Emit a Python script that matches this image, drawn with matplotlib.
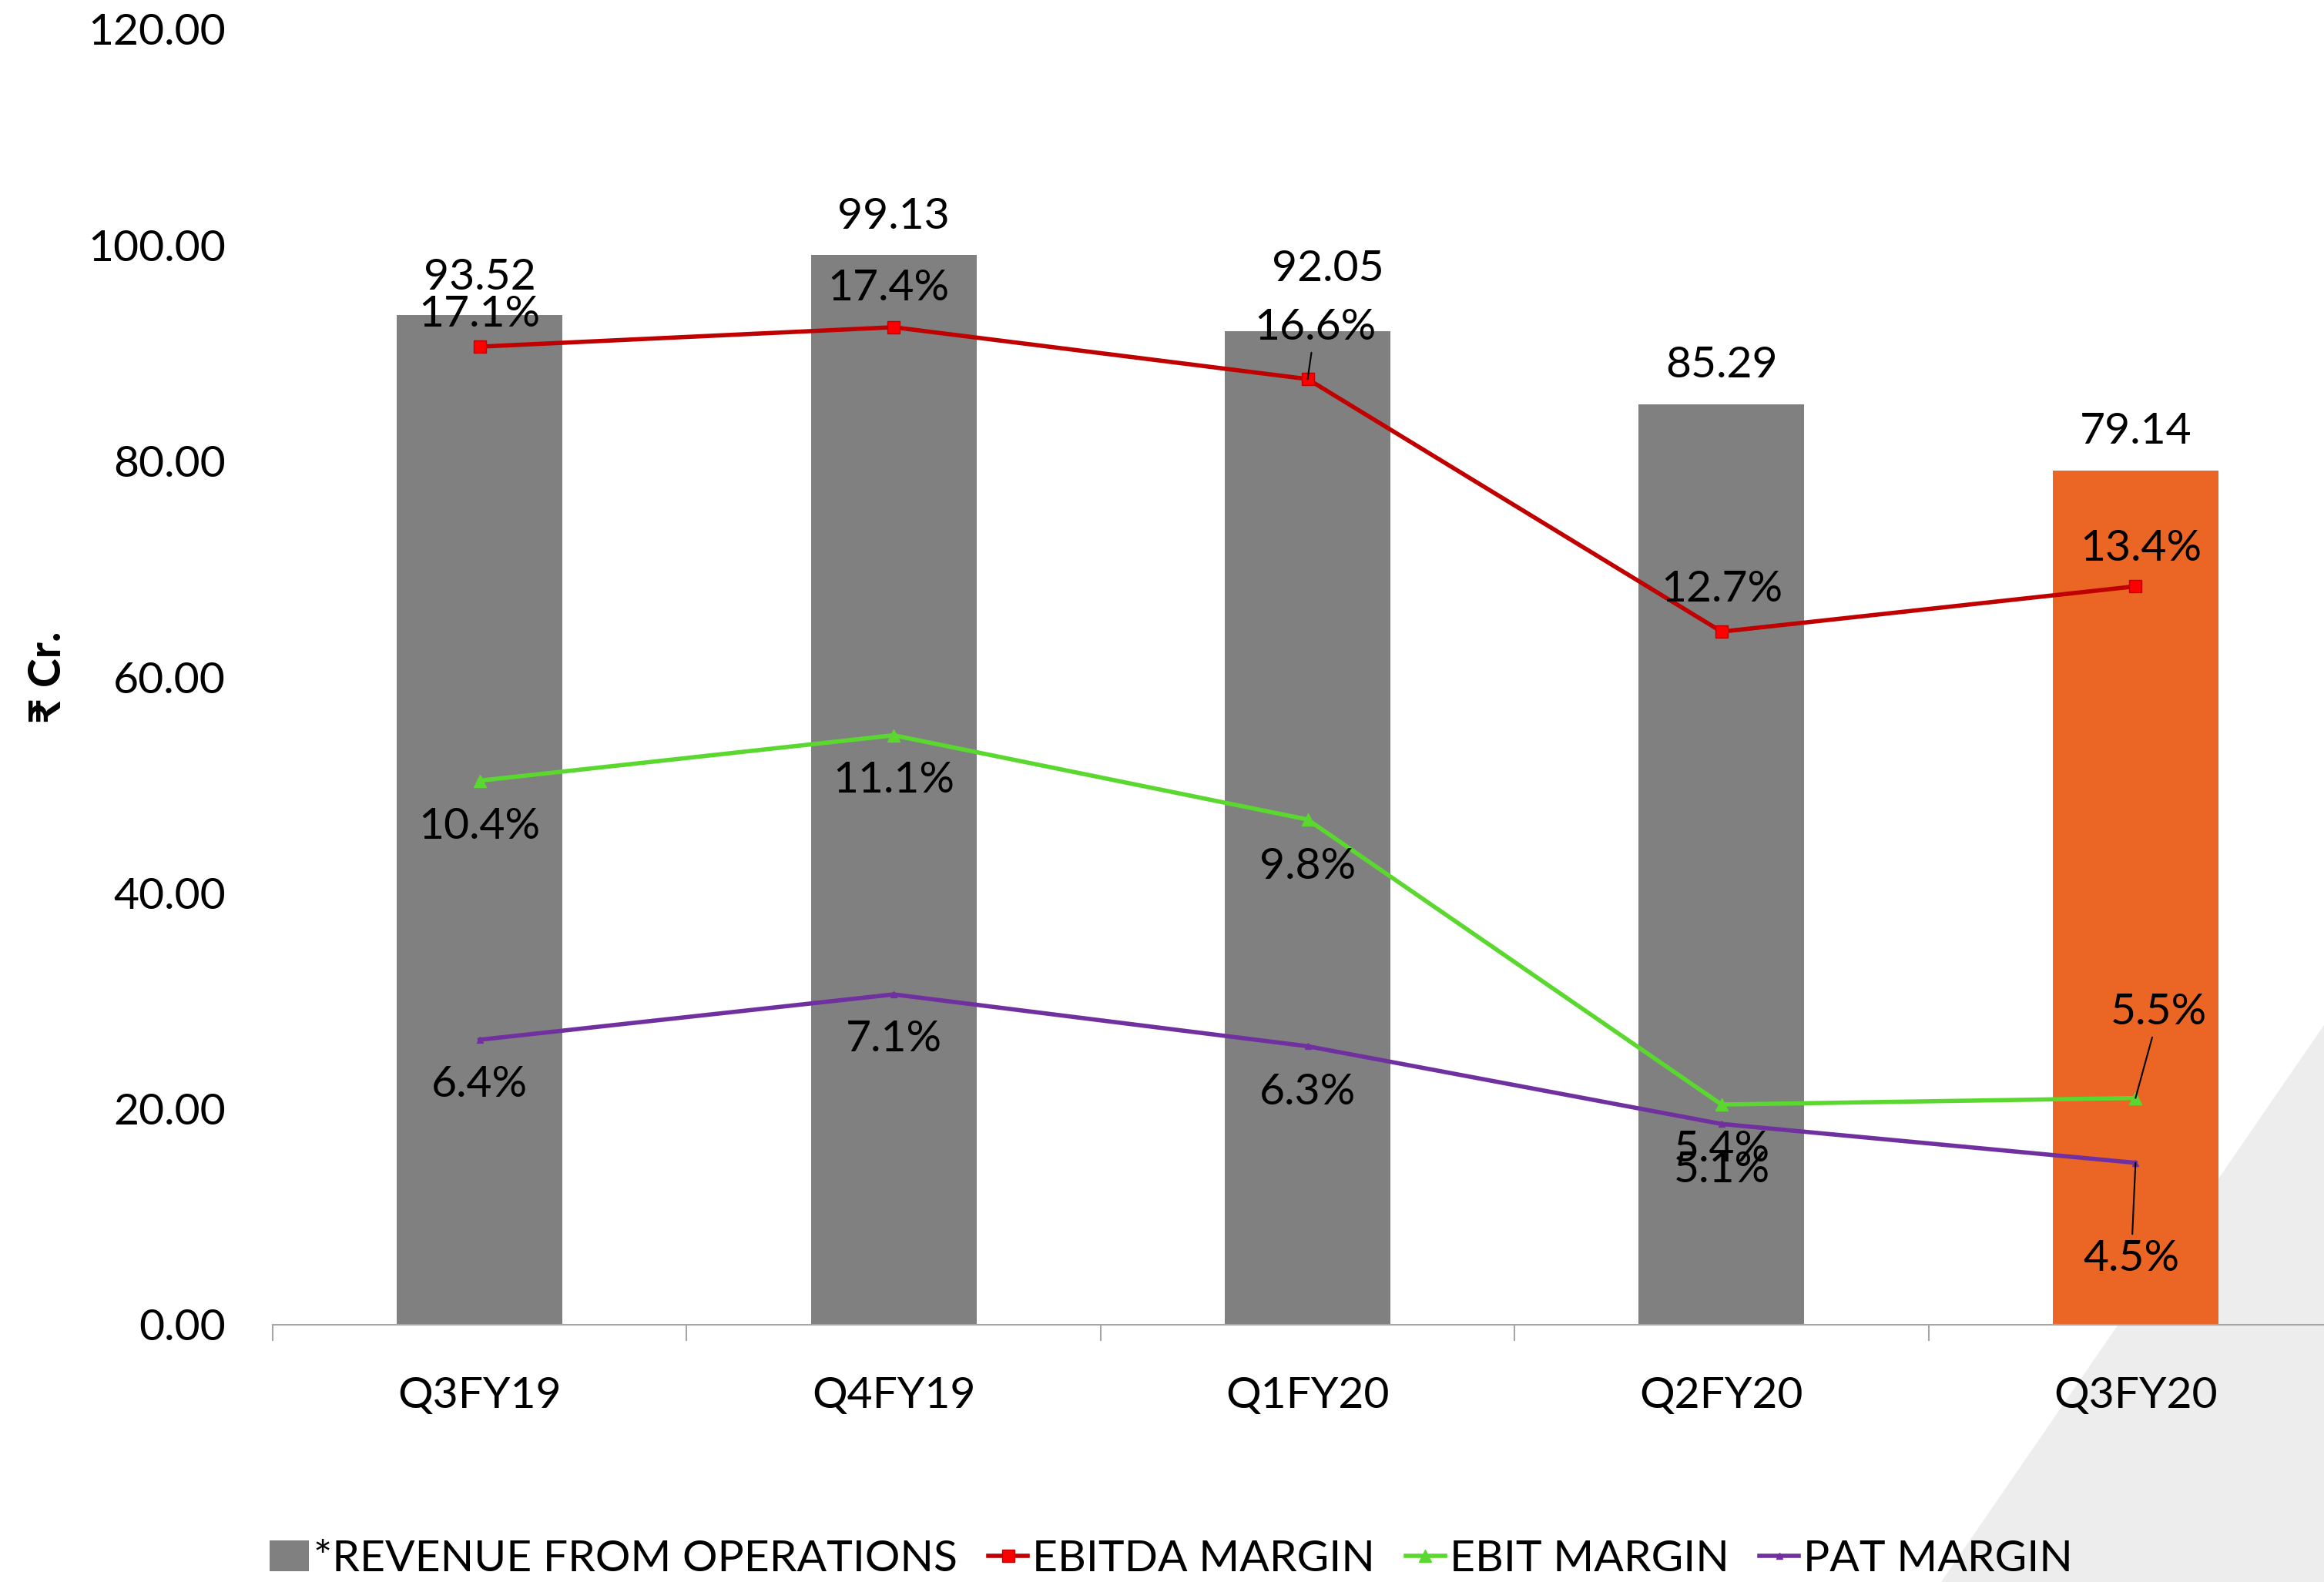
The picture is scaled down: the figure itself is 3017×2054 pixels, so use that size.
import matplotlib.pyplot as plt
from matplotlib.patches import Polygon
import numpy as np

plt.rcParams['font.family'] = ['Lato', 'DejaVu Sans']

quarters = ['Q3FY19', 'Q4FY19', 'Q1FY20', 'Q2FY20', 'Q3FY20']
revenue = [93.52, 99.13, 92.05, 85.29, 79.14]
ebitda_margin = [17.1, 17.4, 16.6, 12.7, 13.4]
ebit_margin = [10.4, 11.1, 9.8, 5.4, 5.5]
pat_margin = [6.4, 7.1, 6.3, 5.1, 4.5]

# label offsets (points) for data labels, and which ones get a leader line
rev_off = [(0, 35), (0, 35), (19, 58), (0, 36), (0, 36)]
ebitda_off = [(0, 30), (-5, 36), (7, 48), (0, 39), (5, 35)]
ebit_off = [(0, -43), (0, -42), (0, -44), (0, -42), (22, 80)]
pat_off = [(0, -42), (0, -42), (0, -43), (0, -43), (-4, -90)]
ebitda_lead = [False, False, True, False, False]
ebit_lead = [False, False, False, False, True]
pat_lead = [False, False, False, False, True]

FS = 41
fig = plt.figure(figsize=(30.17, 20.54), dpi=100)

# light gray triangle in bottom right corner, behind the chart
tri = Polygon([(1.0, 1 - 1331 / 2054), (1.0, 0.0), (2520 / 3017, 0.0)],
              closed=True, transform=fig.transFigure, facecolor='#EDEDED',
              edgecolor='none', zorder=-10)
fig.patches.append(tri)

ax1 = fig.add_axes([354 / 3017, 1 - 1720 / 2054, 2687 / 3017, 1682 / 2054])
ax1.patch.set_alpha(0)
x = np.arange(len(quarters))
colors = ['#808080'] * 4 + ['#EB6625']
ax1.bar(x, revenue, width=0.4, color=colors, zorder=2, label='*REVENUE FROM OPERATIONS')
ax1.set_xlim(-0.5, 4.5)
ax1.set_ylim(0, 120)
ax1.set_yticks(np.arange(0, 121, 20))
ax1.set_yticklabels(['%.2f' % v for v in np.arange(0, 121, 20)], fontsize=FS)
ax1.set_xticks(x)
ax1.set_xticklabels(quarters, fontsize=FS)
ax1.set_xticks(np.arange(-0.5, 5, 1), minor=True)
ax1.tick_params(axis='x', which='major', length=0, pad=48)
ax1.tick_params(axis='x', which='minor', length=15, width=1.5, color='#A6A6A6')
ax1.tick_params(axis='y', length=0, pad=44)
for s in ['top', 'right', 'left']:
    ax1.spines[s].set_visible(False)
ax1.spines['bottom'].set_color('#A6A6A6')
ax1.spines['bottom'].set_linewidth(1.5)
ax1.set_ylabel('₹ Cr.', fontsize=FS, fontweight='bold', labelpad=18)

for i, v in enumerate(revenue):
    ax1.annotate('%.2f' % v, (x[i], v), xytext=rev_off[i], textcoords='offset points',
                 ha='center', va='center', fontsize=FS, zorder=5)

ax2 = ax1.twinx()
ax2.set_ylim(2, 22)
ax2.axis('off')
l1, = ax2.plot(x, ebitda_margin, color='#C00000', lw=4, marker='s', markersize=11,
               markerfacecolor='#FF0000', markeredgecolor='#C00000', label='EBITDA MARGIN')
l2, = ax2.plot(x, ebit_margin, color='#5BD82F', lw=4, marker='^', markersize=11,
               label='EBIT MARGIN')
l3, = ax2.plot(x, pat_margin, color='#7030A0', lw=4, marker='^', markersize=6,
               label='PAT MARGIN')

leader = dict(arrowstyle='-', color='black', lw=1.5, shrinkA=3, shrinkB=0)
for vals, offs, lead in [(ebitda_margin, ebitda_off, ebitda_lead),
                         (ebit_margin, ebit_off, ebit_lead),
                         (pat_margin, pat_off, pat_lead)]:
    for i, v in enumerate(vals):
        ax2.annotate('%.1f%%' % v, (x[i], v), xytext=offs[i], textcoords='offset points',
                     ha='center', va='center', fontsize=FS,
                     arrowprops=leader if lead[i] else None)

h1, lab1 = ax1.get_legend_handles_labels()
fig.legend(h1 + [l1, l2, l3], lab1 + ['EBITDA MARGIN', 'EBIT MARGIN', 'PAT MARGIN'],
           loc='center', bbox_to_anchor=(0.504, 1 - 2024 / 2054), ncol=4, frameon=False,
           fontsize=FS, handlelength=0.9, handletextpad=0.1, columnspacing=0.7)

fig.savefig('out.png', dpi=100)
